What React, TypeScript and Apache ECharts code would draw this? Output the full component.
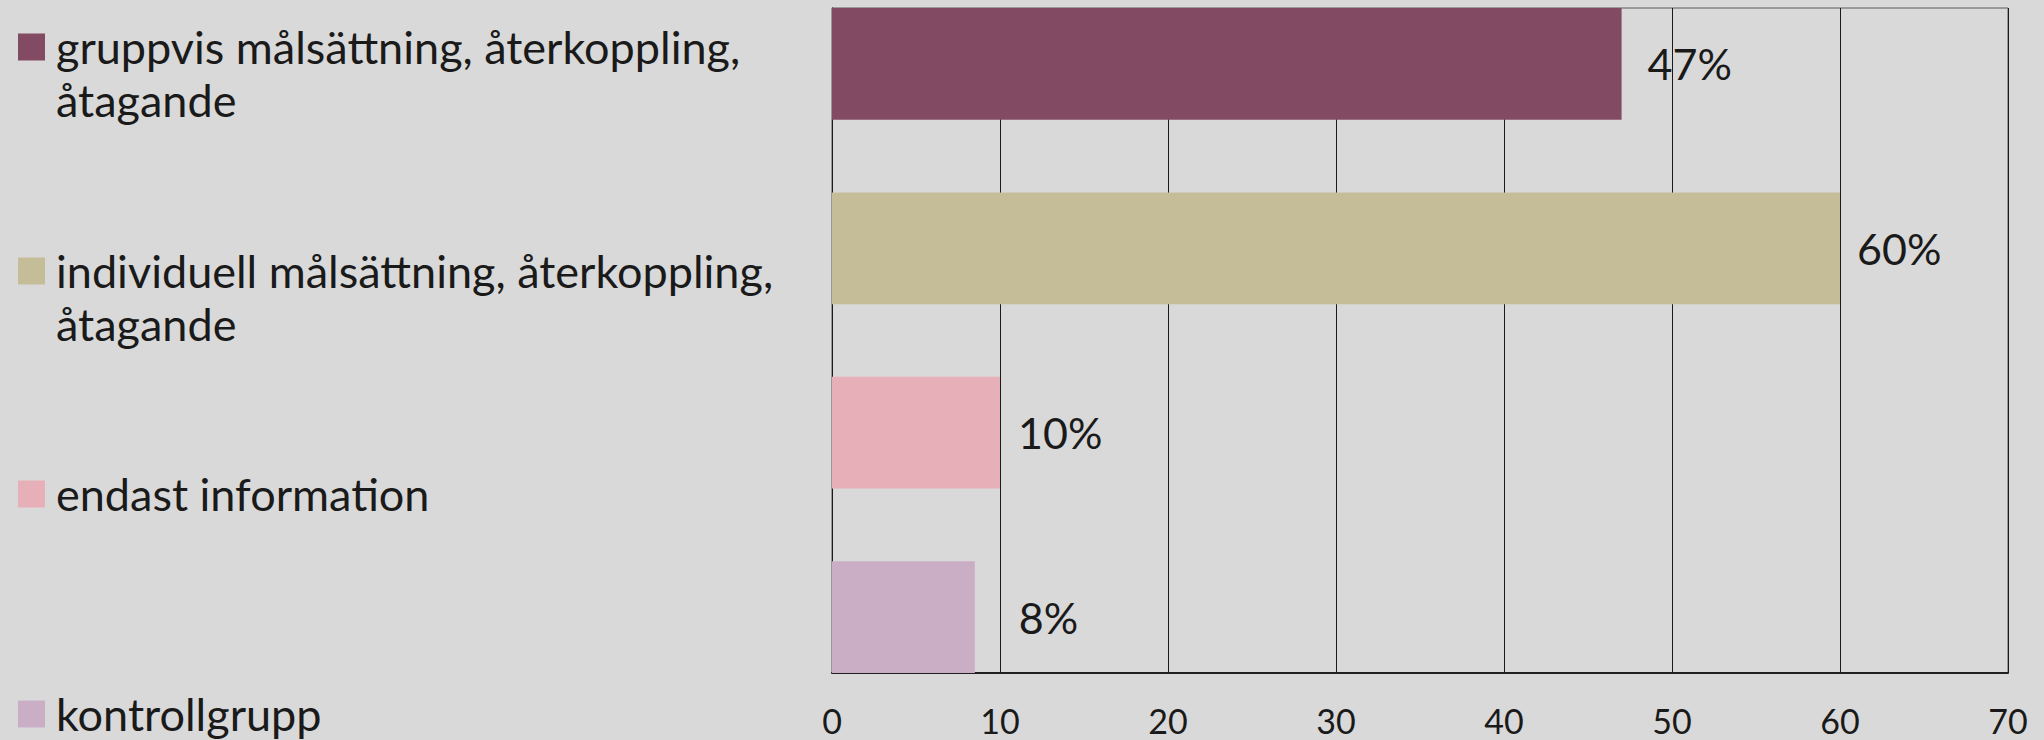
import React, { useEffect, useRef } from "react";
import * as echarts from "echarts";

// ---- data ----
const categories: string[] = [""];
const seriesNames: string[] = [
  "gruppvis målsättning, återkoppling,\nåtagande",
  "individuell målsättning, återkoppling,\nåtagande",
  "endast information",
  "kontrollgrupp",
];
const seriesValues: number[] = [47, 60, 10, 8.5];
const valueLabels: string[] = ["47%", "60%", "10%", "8%"];
const xMin = 0;
const xMax = 70;
const xStep = 10;

// ---- styles ----
const colors = ["#834B63", "#C5BD97", "#E7AFB8", "#CAAEC6"];
const labelGaps = [26, 17, 18, 44];
const legendCenters = [47, 271, 494, 714];
const FONT = "Lato";
const LEGEND_LH = 53;
const LEGEND_FS = 45;

export default function App() {
  const ref = useRef<HTMLDivElement>(null);

  useEffect(() => {
    document.body.style.margin = "0";
    if (!ref.current) return;
    const chart = echarts.init(ref.current, null, { renderer: "svg" });

    const legends = seriesNames.map((name, i) => {
      const twoLine = name.includes("\n");
      const lh = twoLine ? LEGEND_LH : LEGEND_FS;
      // two-line names get a leading empty line so the first line sits on the icon
      const blockH = twoLine ? lh * 3 : lh;
      return {
        data: [name],
        orient: "vertical",
        left: 18,
        top: legendCenters[i] - blockH / 2,
        padding: 0,
        itemWidth: 27,
        itemHeight: 27,
        icon: "rect",
        selectedMode: false,
        formatter: (n: string) => (twoLine ? "\n" + n : n),
        textStyle: {
          fontFamily: FONT,
          fontSize: LEGEND_FS,
          lineHeight: lh,
          color: "#1a1a1a",
          padding: [0, 0, 0, 6],
        },
      };
    });

    const series = seriesNames.map((name, i) => ({
      name,
      type: "bar",
      data: [seriesValues[i]],
      itemStyle: { color: colors[i] },
      barGap: "65%",
      barCategoryGap: "0%",
      label: {
        show: true,
        position: "right",
        distance: labelGaps[i],
        formatter: () => valueLabels[i],
        fontFamily: FONT,
        fontSize: 43,
        color: "#1a1a1a",
      },
    }));

    chart.setOption({
      animation: false,
      backgroundColor: "#D9D9D9",
      legend: legends,
      grid: {
        left: 832,
        right: 36,
        top: 8,
        bottom: 67,
        show: true,
        borderColor: "#5a5a5a",
        borderWidth: 1,
        backgroundColor: "transparent",
        outerBoundsMode: "none",
      },
      xAxis: {
        type: "value",
        min: xMin,
        max: xMax,
        interval: xStep,
        axisLine: { show: true, lineStyle: { color: "#1f1f1f", width: 2 } },
        axisTick: { show: false },
        splitLine: { show: true, lineStyle: { color: "#1a1a1a", width: 1 } },
        axisLabel: {
          fontFamily: FONT,
          fontSize: 34,
          color: "#1a1a1a",
          margin: 30,
        },
      },
      yAxis: {
        type: "category",
        data: categories,
        axisLine: { show: true, lineStyle: { color: "#1a1a1a", width: 1 } },
        axisTick: { show: false },
        axisLabel: { show: false },
        splitLine: { show: false },
      },
      series,
    });

    return () => {
      chart.dispose();
    };
  }, []);

  return (
    <div
      ref={ref}
      style={{ width: 2044, height: 740, background: "#D9D9D9" }}
    />
  );
}
